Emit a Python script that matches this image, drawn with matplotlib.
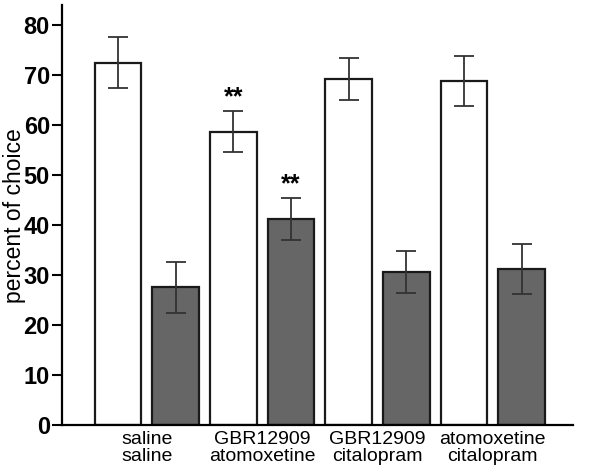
import numpy as np
import matplotlib.pyplot as plt

plt.rcParams['font.family'] = ['Liberation Sans', 'DejaVu Sans']

groups = ["saline\nsaline", "GBR12909\natomoxetine", "GBR12909\ncitalopram", "atomoxetine\ncitalopram"]
white_vals = [72.5, 58.7, 69.3, 68.8]
white_err = [5.1, 4.1, 4.2, 5.0]
dark_vals = [27.6, 41.3, 30.6, 31.3]
dark_err = [5.1, 4.2, 4.2, 5.0]
stars_white = ["", "**", "", ""]
stars_dark = ["", "**", "", ""]

fig = plt.figure(figsize=(6, 4.72), dpi=100)
ax = fig.add_axes([0.103, 0.0996, 0.852, 0.889])

idx = np.arange(len(groups))
xw = idx * 2
xd = idx * 2 + 1
w = 0.81

ax.bar(xw, white_vals, w, color='white', edgecolor='#1a1a1a', linewidth=1.6)
ax.bar(xd, dark_vals, w, color='#666666', edgecolor='#1a1a1a', linewidth=1.6)
ax.errorbar(xw, white_vals, yerr=white_err, fmt='none', ecolor='#333333',
            elinewidth=1.3, capsize=7, capthick=1.3)
ax.errorbar(xd, dark_vals, yerr=dark_err, fmt='none', ecolor='#333333',
            elinewidth=1.3, capsize=7, capthick=1.3)

for x, v, e, s in zip(xw, white_vals, white_err, stars_white):
    if s:
        ax.text(x, v + e + 0.3, s, ha='center', va='bottom', fontsize=18, fontweight='bold')
for x, v, e, s in zip(xd, dark_vals, dark_err, stars_dark):
    if s:
        ax.text(x, v + e + 0.3, s, ha='center', va='bottom', fontsize=18, fontweight='bold')

ax.set_xlim(-0.975, 7.89)
ax.set_ylim(0, 84)
ax.set_yticks(np.arange(0, 81, 10))
ax.tick_params(axis='y', length=7, width=1.5, labelsize=17, pad=1.5)
for lab in ax.get_yticklabels():
    lab.set_fontweight('bold')
ax.set_xticks(idx * 2 + 0.5)
ax.set_xticklabels(groups, fontsize=14, linespacing=1.05)
ax.tick_params(axis='x', length=0, pad=4)

ax.spines['top'].set_visible(False)
ax.spines['right'].set_visible(False)
ax.spines['left'].set_linewidth(1.6)
ax.spines['bottom'].set_linewidth(1.6)
ax.set_ylabel("percent of choice", fontsize=16.5)
ax.yaxis.set_label_coords(-0.071, 0.5)

fig.savefig("out.png", dpi=100)
